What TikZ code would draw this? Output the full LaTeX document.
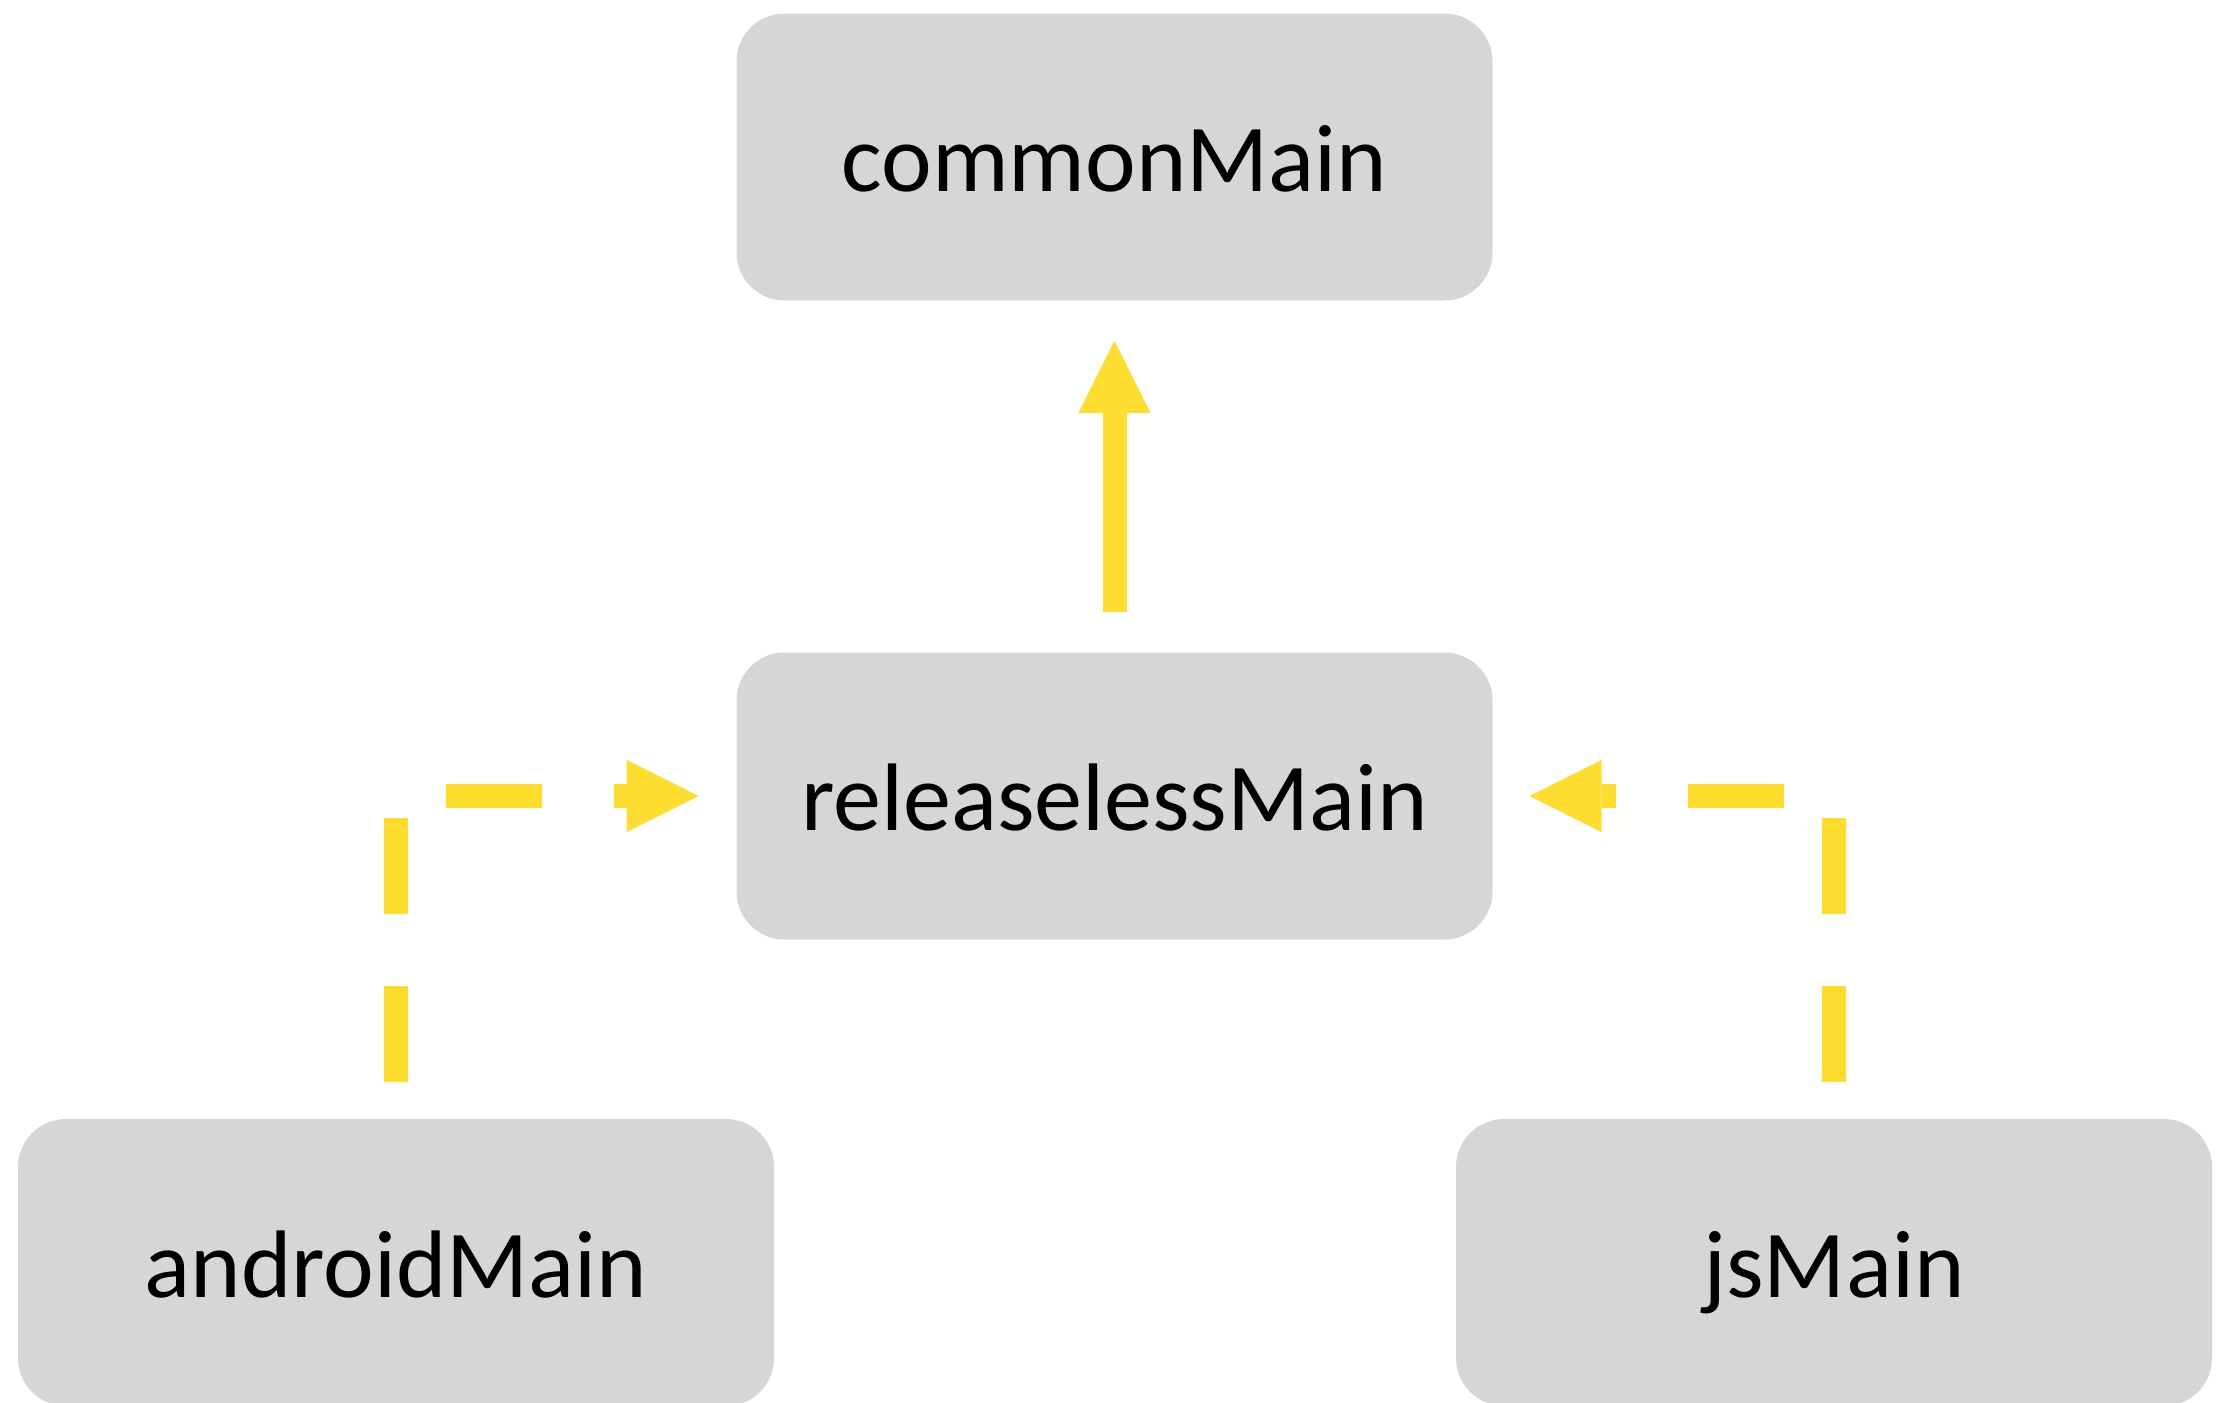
\documentclass[tikz,border=0pt]{standalone}
\usepackage{fontspec}
\setmainfont{Carlito}
\usetikzlibrary{arrows.meta}
\definecolor{boxgray}{HTML}{D6D6D6}
\definecolor{arrowyellow}{HTML}{FFDD2E}
\begin{document}
\begin{tikzpicture}[x=0.5pt,y=-0.5pt,
  box/.style={fill=boxgray, draw=none, rounded corners=24pt,
    minimum width=378pt, minimum height=143.5pt, inner sep=0pt,
    font=\fontsize{48}{58}\selectfont, text height=34.5pt, text depth=0pt},
  conn/.style={draw=arrowyellow, line width=12pt,
    -{Triangle[length=36pt,width=36pt,line width=0pt,fill=arrowyellow]}},
  dconn/.style={conn, dash pattern=on 48pt off 36pt}]
\useasboundingbox (0,0) rectangle (2218,1403);
\node[box] (common) at (1114.5,157) {commonMain};
\node[box] (release) at (1114.5,796) {releaselessMain};
\node[box] (android) at (396,1262.5) {androidMain};
\node[box] (js) at (1834,1262.5) {jsMain};
\draw[conn] ([yshift=20pt]release.north) -- ([yshift=-20pt]common.south);
\draw[dconn] ([yshift=18.5pt]android.north) |- ([xshift=-18.7pt]release.west);
\draw[dconn] ([yshift=18.5pt]js.north) |- ([xshift=18.3pt]release.east);
\end{tikzpicture}
\end{document}
